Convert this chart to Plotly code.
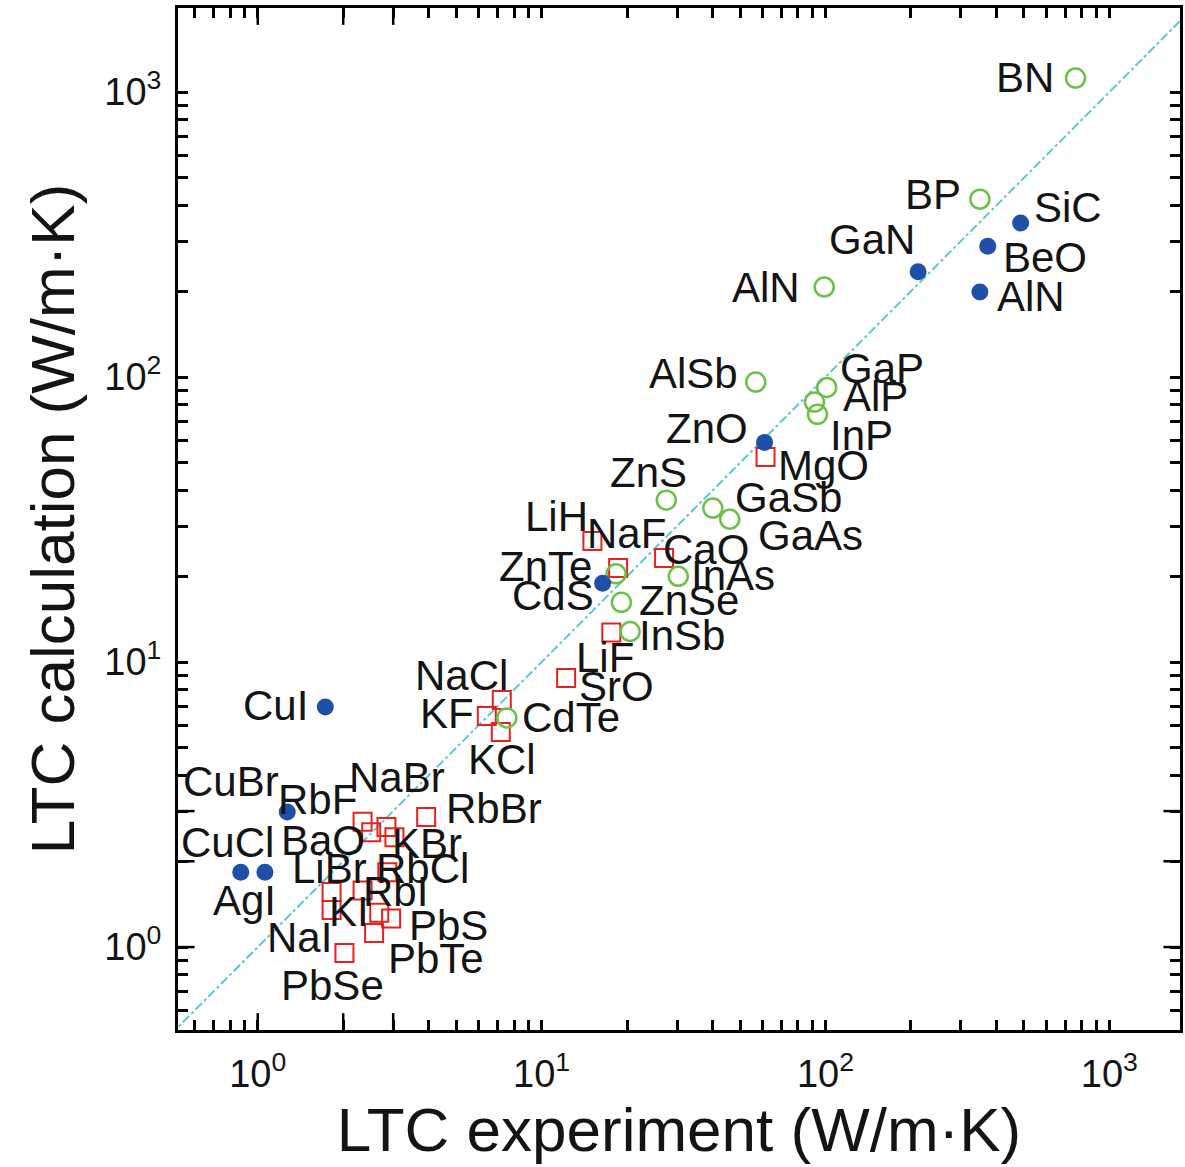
import math
import plotly.graph_objects as go

# ---------------- data ----------------
rs_names = ["LiH", "NaF", "CaO", "MgO", "LiF", "SrO", "NaCl", "KF", "KCl",
            "RbF", "NaBr", "RbBr", "BaO", "KBr", "RbCl", "LiBr", "RbI", "NaI",
            "KI", "PbS", "PbTe", "PbSe"]
rs_exp = [15.1, 18.6, 27.0, 61.5, 17.6, 12.2, 7.24, 6.41, 7.18,
          2.34, 2.84, 3.92, 2.51, 3.03, 2.86, 1.82, 2.34, 1.82,
          2.68, 2.95, 2.57, 2.02]
rs_calc = [26.6, 21.4, 23.2, 52.4, 12.7, 8.8, 7.36, 6.47, 5.68,
           2.75, 2.64, 2.86, 2.53, 2.43, 1.83, 1.56, 1.58, 1.35,
           1.32, 1.26, 1.12, 0.953]

zb_names = ["BN", "BP", "AlN", "AlSb", "GaP", "AlP", "InP", "ZnS", "GaSb",
            "GaAs", "ZnTe", "InAs", "ZnSe", "InSb", "CdTe"]
zb_exp = [760, 350, 99, 56.8, 101, 91.5, 93.7, 27.5, 40.1,
          46.0, 18.3, 30.3, 19.1, 20.5, 7.54]
zb_calc = [1120, 421, 207, 96, 92, 81.7, 74, 37, 34.7,
           31.7, 20.4, 20.0, 16.2, 12.8, 6.37]

wz_names = ["SiC", "BeO", "AlN", "GaN", "ZnO", "CdS", "CuI", "CuBr", "CuCl", "AgI"]
wz_exp = [487, 373, 350, 212, 61, 16.4, 1.73, 1.27, 0.871, 1.06]
wz_calc = [347, 288, 199, 234, 59, 18.9, 6.95, 2.98, 1.83, 1.83]

diag_vals = [0.4, 3000]

tick_vals = [1, 10, 100, 1000]
tick_text = ["10<sup>0</sup>", "10<sup>1</sup>", "10<sup>2</sup>", "10<sup>3</sup>"]
minor_decades = [0.1, 1, 10, 100, 1000]
minor_digits = [2, 3, 4, 5, 6, 7, 8, 9]
minor_vals = [d * m for d in minor_decades for m in minor_digits]

x_title = "LTC experiment (W/m·K)"
y_title = "LTC calculation (W/m·K)"

rs_offsets = {
    "LiH": (-36, -24), "NaF": (8, -34), "CaO": (42, -8), "MgO": (58, 8),
    "LiF": (-6, 25), "SrO": (50, 9), "NaCl": (-40, -25), "KF": (-40, -2),
    "KCl": (1, 27), "RbF": (-45, -22), "NaBr": (11, -49), "RbBr": (68, -9),
    "BaO": (-48, 8), "KBr": (33, 6), "RbCl": (35, -4), "LiBr": (-2, -24),
    "RbI": (33, 1), "NaI": (-32, 28), "KI": (-30, -1), "PbS": (57, 7),
    "PbTe": (62, 25), "PbSe": (-12, 32),
}
zb_offsets = {
    "BN": (-50, -1), "BP": (-47, -5), "AlN": (-58, 0), "AlSb": (-62, -9),
    "GaP": (55, -19), "AlP": (61, -6), "InP": (44, 21), "ZnS": (-18, -28),
    "GaSb": (76, -11), "GaAs": (81, 16), "ZnTe": (-71, -7), "InAs": (55, -1),
    "ZnSe": (68, -2), "InSb": (52, 4), "CdTe": (64, 0),
}
wz_offsets = {
    "SiC": (47, -16), "BeO": (57, 11), "AlN": (51, 5), "GaN": (-46, -32),
    "ZnO": (-58, -14), "CdS": (-50, 12), "CuI": (-50, -2), "CuBr": (-56, -30),
    "CuCl": (-13, -30), "AgI": (-20, 28),
}

RED = "#e8201e"
GREEN = "#6cc04a"
BLUE = "#1f4fa8"
LINE = "#5cc8d6"
TEXT = "#141414"
FONT = "Liberation Sans, Arial, sans-serif"

X_RANGE = [-0.281, 3.249]
Y_RANGE = [-0.291, 3.295]

fig = go.Figure()

fig.add_trace(go.Scatter(
    x=diag_vals, y=diag_vals, mode="lines",
    line=dict(color=LINE, width=2, dash="dashdot"),
    hoverinfo="skip", showlegend=False))
fig.add_trace(go.Scatter(
    x=rs_exp, y=rs_calc, mode="markers", text=rs_names,
    marker=dict(symbol="square-open", size=18, color=RED, line=dict(width=2, color=RED)),
    showlegend=False))
fig.add_trace(go.Scatter(
    x=zb_exp, y=zb_calc, mode="markers", text=zb_names,
    marker=dict(symbol="circle-open", size=19, color=GREEN, line=dict(width=2.5, color=GREEN)),
    showlegend=False))
fig.add_trace(go.Scatter(
    x=wz_exp, y=wz_calc, mode="markers", text=wz_names,
    marker=dict(symbol="circle", size=17, color=BLUE, line=dict(width=0)),
    showlegend=False))

annotations = []
for names, xs, ys, offs in ((rs_names, rs_exp, rs_calc, rs_offsets),
                            (zb_names, zb_exp, zb_calc, zb_offsets),
                            (wz_names, wz_exp, wz_calc, wz_offsets)):
    for n, xv, yv in zip(names, xs, ys):
        dx, dy = offs[n]
        annotations.append(dict(
            x=math.log10(xv), y=math.log10(yv), xref="x", yref="y", text=n,
            showarrow=False, xanchor="center", yanchor="middle",
            xshift=dx, yshift=-dy,
            font=dict(family=FONT, size=42, color=TEXT)))

# all tick positions (major + minor) on the main axes; minor ones unlabeled
all_vals = tick_vals + minor_vals
all_text = tick_text + [""] * len(minor_vals)

axis_common = dict(
    type="log", showgrid=False, zeroline=False,
    showline=True, linecolor="black", linewidth=3, mirror="allticks",
    ticks="inside", ticklen=10, tickwidth=2.5, tickcolor="black",
    tickmode="array", tickvals=all_vals, ticktext=all_text,
    tickfont=dict(family=FONT, size=38, color=TEXT),
)

fig.update_layout(
    width=1185, height=1167,
    margin=dict(l=178, r=2, t=8, b=137),
    paper_bgcolor="white", plot_bgcolor="white",
    xaxis=dict(range=X_RANGE, title=dict(text=x_title, standoff=6,
               font=dict(family=FONT, size=62, color=TEXT)),
               ticklabelstandoff=8, **axis_common),
    yaxis=dict(range=Y_RANGE, title=dict(text=y_title, standoff=10,
               font=dict(family=FONT, size=62, color=TEXT)),
               ticklabelstandoff=6, **axis_common),
    annotations=annotations,
    font=dict(family=FONT),
)

# longer major ticks drawn as axis-referenced shapes along each frame side
major_len = 0.0165  # fraction of plot width/height
for v in tick_vals:
    lv = math.log10(v)
    for y0, y1 in ((0, major_len), (1, 1 - major_len)):
        fig.add_shape(type="line", xref="x", yref="paper", x0=lv, x1=lv, y0=y0, y1=y1,
                      line=dict(color="black", width=2.5))
    for x0, x1 in ((0, major_len), (1, 1 - major_len)):
        fig.add_shape(type="line", xref="paper", yref="y", x0=x0, x1=x1, y0=lv, y1=lv,
                      line=dict(color="black", width=2.5))

fig.write_html("out.html")
